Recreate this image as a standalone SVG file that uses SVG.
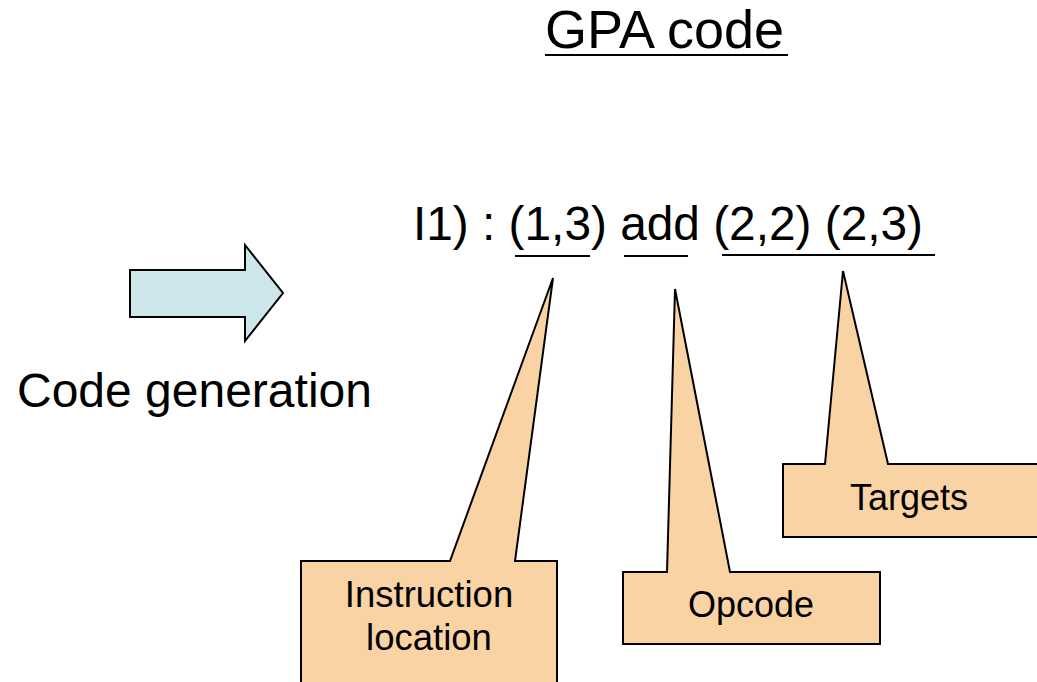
<svg xmlns="http://www.w3.org/2000/svg" width="1037" height="682" viewBox="0 0 1037 682">
  <style>
    .txt { font-family: "Liberation Sans", Arial, sans-serif; fill: #000; }
    .callout { fill: #F9D3A4; stroke: #000; stroke-width: 2; stroke-linejoin: miter; }
    .arrow { fill: #CDE6E9; stroke: #000; stroke-width: 2; }
    .uline { stroke: #000; stroke-width: 2; }
  </style>
  <rect width="1037" height="682" fill="#fff"/>

  <g id="title">
    <text class="txt" x="545" y="48" font-size="54">GPA code</text>
    <line class="uline" x1="545" y1="55" x2="788" y2="55" stroke-width="3"/>
  </g>

  <g id="code-gen-arrow">
    <path class="arrow" d="M130,270 L245,270 L245,245 L283,293 L245,341 L245,317 L130,317 Z"/>
  </g>

  <g id="code-gen-label">
    <text class="txt" x="17" y="407" font-size="48">Code generation</text>
  </g>

  <g id="instruction">
    <text class="txt" x="413" y="240" font-size="47.8">I1) : (1,3) add (2,2) (2,3)</text>
    <line class="uline" x1="515" y1="256" x2="590" y2="256"/>
    <line class="uline" x1="624" y1="256" x2="688" y2="256"/>
    <line class="uline" x1="722" y1="255" x2="935" y2="255"/>
  </g>

  <g id="connectors">
    <!-- callout pointers are part of each callout outline -->
  </g>

  <g id="callout-location">
    <path class="callout" d="M301,561 L450,561 L553,278 L515,561 L557,561 L557,690 L301,690 Z"/>
    <text class="txt" x="429" y="607" font-size="36.5" text-anchor="middle">Instruction</text>
    <text class="txt" x="429" y="650" font-size="36.5" text-anchor="middle">location</text>
  </g>

  <g id="callout-opcode">
    <path class="callout" d="M623,572 L667,572 L675,289 L730,572 L880,572 L880,644 L623,644 Z"/>
    <text class="txt" x="751" y="617" font-size="36" text-anchor="middle">Opcode</text>
  </g>

  <g id="callout-targets">
    <path class="callout" d="M783,464 L825,464 L843,271 L888,464 L1045,464 L1045,537 L783,537 Z"/>
    <text class="txt" x="909" y="510" font-size="36" text-anchor="middle">Targets</text>
  </g>
</svg>
